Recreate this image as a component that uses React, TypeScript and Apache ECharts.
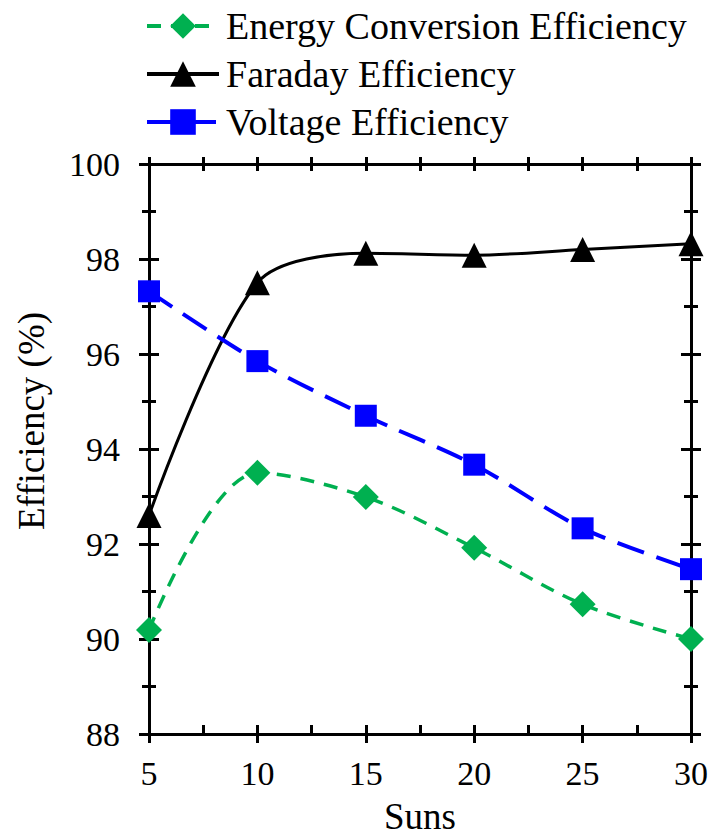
import React, { useEffect, useRef } from "react";
import * as echarts from "echarts";

const suns = [5, 10, 15, 20, 25, 30];
const energyEff = [90.19, 93.5, 92.99, 91.92, 90.73, 90.0];
const faradayEff = [92.6, 97.5, 98.12, 98.08, 98.2, 98.32];
const voltageEff = [97.32, 95.85, 94.7, 93.67, 92.33, 91.47];
const seriesNames = ["Energy Conversion Efficiency", "Faraday Efficiency", "Voltage Efficiency"];
const xTitle = "Suns";
const yTitle = "Efficiency (%)";

const FONT = "Liberation Serif";

function pairs(ys: number[]) {
  return suns.map((x, i) => [x, ys[i]]);
}

export default function App() {
  const ref = useRef<HTMLDivElement>(null);
  useEffect(() => {
    document.body.style.margin = "0";
    const chart = echarts.init(ref.current!, null, { renderer: "svg" });
    const axisLine = { show: true, lineStyle: { color: "#000", width: 3 } };
    const mkX = (pos: "top" | "bottom", inside: boolean, len: number, labels: boolean) => ({
      type: "value",
      position: pos,
      min: 5,
      max: 30,
      interval: labels ? 5 : 2.5,
      axisLine,
      axisTick: { show: true, inside, length: len, lineStyle: { color: "#000", width: 3 } },
      axisLabel: labels
        ? { show: true, fontFamily: FONT, fontSize: 34, color: "#000", margin: 22 }
        : { show: false },
      splitLine: { show: false },
      name: labels ? xTitle : "",
      nameLocation: "middle",
      nameGap: 64,
      nameTextStyle: { fontFamily: FONT, fontSize: 37, color: "#000" },
    });
    const mkY = (pos: "left" | "right", inside: boolean, len: number, interval: number, labels: boolean) => ({
      type: "value",
      position: pos,
      min: 88,
      max: 100,
      interval,
      axisLine,
      axisTick: { show: true, inside, length: len, lineStyle: { color: "#000", width: 3 } },
      axisLabel: labels
        ? { show: true, fontFamily: FONT, fontSize: 34, color: "#000", margin: 29 }
        : { show: false },
      splitLine: { show: false },
    });
    chart.setOption({
      animation: false,
      backgroundColor: "#fff",
      grid: { left: 149, right: 18, top: 164, bottom: 102, containLabel: false },
      legend: {
        orient: "vertical",
        left: 140,
        top: 2,
        itemWidth: 72,
        itemHeight: 32,
        itemGap: 10,
        lineStyle: { width: 4 },
        textStyle: { fontFamily: FONT, fontSize: 38, color: "#000", padding: [0, 0, 0, 2] },
        data: seriesNames,
      },
      xAxis: [
        mkX("bottom", false, 9, true),
        mkX("bottom", true, 9, false),
        mkX("top", false, 7, false),
        mkX("top", true, 7, false),
      ],
      yAxis: [
        mkY("left", false, 10, 2, true),
        mkY("left", true, 10, 2, false),
        mkY("left", false, 7, 1, false),
        mkY("left", true, 7, 1, false),
        mkY("right", false, 10, 2, false),
        mkY("right", true, 10, 2, false),
        mkY("right", false, 7, 1, false),
        mkY("right", true, 7, 1, false),
      ],
      graphic: [
        {
          type: "text",
          x: 31,
          y: 421,
          rotation: Math.PI / 2,
          style: {
            text: yTitle,
            font: "37px 'Liberation Serif'",
            fill: "#000",
            textAlign: "center",
            textVerticalAlign: "middle",
          },
        },
      ],
      series: [
        {
          name: seriesNames[0],
          type: "line",
          data: pairs(energyEff),
          smooth: 0.33,
          symbol: "diamond",
          symbolSize: 26,
          itemStyle: { color: "#00B050" },
          lineStyle: { color: "#00B050", width: 3.5, type: [14, 10] },
          z: 3,
        },
        {
          name: seriesNames[1],
          type: "line",
          data: pairs(faradayEff),
          smooth: 0.3,
          symbol: "triangle",
          symbolSize: 25,
          itemStyle: { color: "#000" },
          lineStyle: { color: "#000", width: 3 },
          z: 4,
        },
        {
          name: seriesNames[2],
          type: "line",
          data: pairs(voltageEff),
          smooth: 0.3,
          symbol: "rect",
          symbolSize: 22,
          itemStyle: { color: "#0000FF" },
          lineStyle: { color: "#0000FF", width: 4, type: [28, 13] },
          z: 5,
        },
      ],
    });
    return () => chart.dispose();
  }, []);
  return <div ref={ref} style={{ width: 711, height: 840 }} />;
}
